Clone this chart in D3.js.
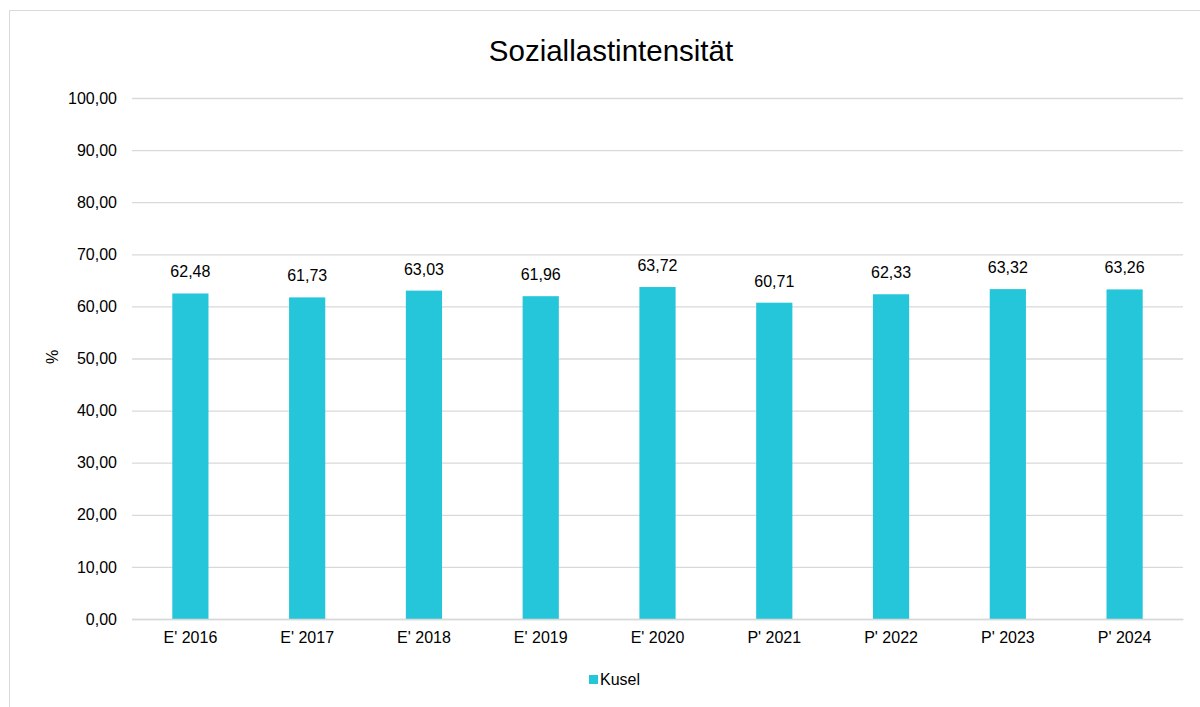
<!DOCTYPE html>
<html>
<head>
<meta charset="utf-8">
<script src="https://cdn.jsdelivr.net/npm/d3@7"></script>
<style>
  body { margin: 0; background: #fff; overflow: hidden; }
  svg { font-family: "Liberation Sans", Arial, sans-serif; display: block; }
</style>
</head>
<body>
<svg></svg>
<script>
// data
let years = ["E' 2016", "E' 2017", "E' 2018", "E' 2019", "E' 2020", "P' 2021", "P' 2022", "P' 2023", "P' 2024"]
let kusel = [62.48, 61.73, 63.03, 61.96, 63.72, 60.71, 62.33, 63.32, 63.26]
let yTicks = [0, 10, 20, 30, 40, 50, 60, 70, 80, 90, 100]

let width = 1200,
    height = 707;
let margin = {top: 98, right: 17, bottom: 88, left: 132}
let innerWidth = width - margin.left - margin.right,
    innerHeight = height - margin.top - margin.bottom;

let fmt = v => d3.format('.2f')(v).replace('.', ',')

let svg = d3.select('svg')
            .attr('width', width)
            .attr('height', height)

// chart frame (left + top edge only, the rest runs off the page)
svg.append('path')
   .attr('d', 'M9.5,' + height + 'V10.5H' + width)
   .attr('fill', 'none')
   .attr('stroke', '#d9d9d9')

svg.append('text')
   .attr('x', 611).attr('y', 61)
   .attr('text-anchor', 'middle')
   .attr('font-size', 29.5)
   .attr('fill', '#000')
   .text('Soziallastintensität')

let g = svg.append('g')
           .attr('transform', 'translate(' + margin.left + ',' + margin.top + ')')

//x scale
let xScale = d3.scaleBand()
      .domain(years)
      .range([0, innerWidth])
      .paddingInner(0.69)
      .paddingOuter(0.345)

//y scale
let yScale = d3.scaleLinear()
      .domain([0, 100])
      .range([innerHeight, 0])

// gridlines
let yAxis = d3.axisLeft(yScale)
      .tickValues(yTicks)
      .tickSize(-innerWidth)
      .tickPadding(15)
      .tickFormat(fmt)

let yg = g.append('g').call(yAxis)
yg.select('.domain').remove()
yg.selectAll('line').attr('stroke', '#d9d9d9').attr('stroke-width', 1.3)
yg.selectAll('text').attr('font-size', 16).attr('fill', '#000')

// bars
g.selectAll('rect.bar')
 .data(kusel)
 .enter()
 .append('rect')
 .attr('class', 'bar')
 .attr('x', (d, i) => xScale(years[i]))
 .attr('y', d => yScale(d))
 .attr('width', xScale.bandwidth())
 .attr('height', d => innerHeight - yScale(d))
 .attr('fill', '#26c6da')

// value labels
g.selectAll('text.val')
 .data(kusel)
 .enter()
 .append('text')
 .attr('class', 'val')
 .attr('x', (d, i) => xScale(years[i]) + xScale.bandwidth() / 2)
 .attr('y', d => yScale(d) - 16)
 .attr('text-anchor', 'middle')
 .attr('font-size', 16)
 .attr('fill', '#000')
 .text(d => fmt(d))

// x axis
let xAxis = d3.axisBottom(xScale).tickSize(0).tickPadding(13)
let xg = g.append('g')
          .attr('transform', 'translate(0,' + innerHeight + ')')
          .call(xAxis)
xg.select('.domain').attr('stroke', '#d9d9d9').attr('stroke-width', 1.3)
xg.selectAll('text').attr('font-size', 16).attr('fill', '#000')

// y title
svg.append('text')
   .attr('transform', 'translate(58,357) rotate(-90)')
   .attr('text-anchor', 'middle')
   .attr('font-size', 16)
   .text('%')

// legend
let legend = svg.append('g').attr('transform', 'translate(589,675)')
legend.append('rect').attr('width', 9).attr('height', 9).attr('fill', '#26c6da')
legend.append('text').attr('x', 11).attr('y', 10).attr('font-size', 16).text('Kusel')
</script>
</body>
</html>
